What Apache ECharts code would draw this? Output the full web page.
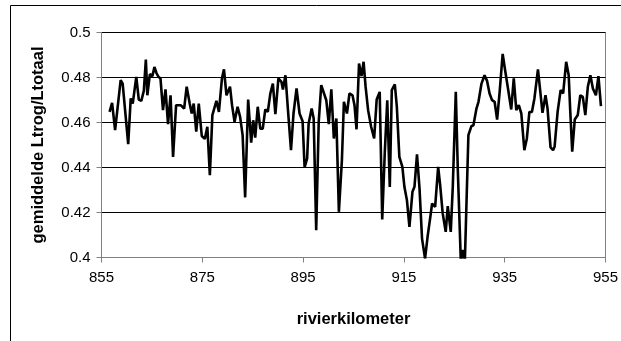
<!DOCTYPE html>
<html>
<head>
<meta charset="utf-8">
<script src="https://cdn.jsdelivr.net/npm/echarts@6/dist/echarts.min.js"></script>
<style>
html,body{margin:0;padding:0;background:#fff;}
#c{width:621px;height:341px;}
</style>
</head>
<body>
<div id="c"></div>
<script>
const km = [
856.6,857.1,857.7,858.8,859.2,860.3,860.8,861.2,861.9,862.4,862.9,863.4,863.8,864.1,864.6,865.1,865.5,865.9,866.3,866.7,
867.2,867.7,868.2,868.7,869.2,869.8,870.7,871.4,871.9,872.5,872.9,873.3,873.8,874.3,874.9,875.5,876.0,876.5,877.0,877.8,
878.3,878.9,879.3,879.8,880.5,880.9,881.4,882.0,882.5,883.0,883.5,884.1,884.7,885.1,885.5,886.0,886.5,887.0,887.5,888.0,
888.5,889.0,889.5,890.1,890.7,891.0,891.5,892.0,892.6,893.1,893.7,894.3,894.9,895.3,895.8,896.1,896.7,897.1,897.6,898.1,
898.6,899.6,900.1,900.6,901.1,901.6,902.1,902.7,903.1,903.7,904.2,904.8,905.2,905.6,906.1,906.6,907.0,907.4,907.9,908.5,
909.1,909.6,910.2,910.7,911.2,911.7,912.2,912.6,913.2,913.6,914.1,914.7,915.1,915.6,916.1,916.7,917.1,917.6,918.1,918.6,
919.2,919.7,920.2,920.6,921.2,921.8,922.2,922.7,923.3,923.7,924.3,924.7,925.3,925.7,926.3,926.7,927.1,927.8,928.4,928.8,
929.4,929.8,930.4,931.0,931.5,932.0,932.5,933.0,933.5,934.0,934.6,935.1,935.6,936.3,936.8,937.3,937.8,938.3,938.9,939.4,
939.9,940.4,940.9,941.6,942.1,942.5,943.1,943.5,944.1,944.6,944.9,945.5,946.1,946.6,947.2,947.7,948.0,948.4,948.9,949.5,
950.0,950.5,951.0,951.5,952.0,952.5,953.1,953.6,954.1
];
const ratio = [
0.4647,0.4687,0.4566,0.4788,0.4773,0.4504,0.4707,0.4684,0.4803,0.4702,0.4696,0.4741,0.4880,0.4721,0.4815,0.4806,0.4847,0.4820,0.4803,0.4796,
0.4655,0.4747,0.4593,0.4721,0.4447,0.4677,0.4677,0.4662,0.4759,0.4684,0.4640,0.4684,0.4559,0.4684,0.4540,0.4527,0.4581,0.4366,0.4633,0.4696,
0.4647,0.4796,0.4836,0.4721,0.4759,0.4677,0.4603,0.4670,0.4625,0.4544,0.4267,0.4702,0.4510,0.4610,0.4533,0.4670,0.4573,0.4573,0.4658,0.4647,
0.4729,0.4773,0.4637,0.4796,0.4781,0.4747,0.4810,0.4655,0.4477,0.4640,0.4751,0.4640,0.4606,0.4400,0.4440,0.4596,0.4662,0.4618,0.4121,0.4603,
0.4766,0.4699,0.4593,0.4747,0.4529,0.4618,0.4203,0.4433,0.4692,0.4640,0.4729,0.4721,0.4677,0.4569,0.4862,0.4806,0.4870,0.4759,0.4655,0.4581,
0.4529,0.4702,0.4736,0.4169,0.4462,0.4699,0.4314,0.4744,0.4770,0.4670,0.4447,0.4403,0.4314,0.4255,0.4136,0.4292,0.4314,0.4458,0.4307,0.4084,
0.3995,0.4092,0.4173,0.4240,0.4225,0.4403,0.4321,0.4196,0.4114,0.4228,0.4114,0.4314,0.4736,0.4388,0.3980,0.4033,0.3985,0.4544,0.4584,0.4588,
0.4662,0.4692,0.4773,0.4810,0.4785,0.4729,0.4699,0.4692,0.4613,0.4736,0.4905,0.4830,0.4759,0.4658,0.4796,0.4655,0.4677,0.4640,0.4477,0.4529,
0.4647,0.4647,0.4707,0.4836,0.4729,0.4643,0.4721,0.4662,0.4489,0.4477,0.4492,0.4647,0.4744,0.4729,0.4870,0.4810,0.4655,0.4470,0.4613,0.4633,
0.4721,0.4714,0.4633,0.4759,0.4810,0.4751,0.4721,0.4806,0.4673
];
const xTitle = 'rivierkilometer';
const yTitle = 'gemiddelde Ltrog/Ltotaal';

const data = km.map((k, i) => [k, ratio[i]]);
const chart = echarts.init(document.getElementById('c'), null, {renderer: 'canvas'});
const font = '"Liberation Sans", Arial, sans-serif';
chart.setOption({
  animation: false,
  backgroundColor: '#fff',
  grid: {left: 101.5, right: 15.5, top: 32.5, bottom: 83.5, show: true, borderColor: '#808080', borderWidth: 1, backgroundColor: 'transparent'},
  graphic: [{
    type: 'rect', silent: true, z: -1,
    shape: {x: 10.5, y: 5.5, width: 700, height: 400},
    style: {fill: null, stroke: '#000', lineWidth: 1}
  }],
  xAxis: {
    type: 'value', min: 855, max: 955, interval: 20,
    name: xTitle, nameLocation: 'middle', nameGap: 53,
    nameTextStyle: {fontFamily: font, fontWeight: 'bold', fontSize: 16.5, color: '#000'},
    axisLine: {show: true, lineStyle: {color: '#808080', width: 1}},
    axisTick: {show: true, inside: false, length: 5, lineStyle: {color: '#808080'}},
    axisLabel: {fontFamily: font, fontSize: 15, color: '#000', margin: 13},
    splitLine: {show: false}
  },
  yAxis: {
    type: 'value', min: 0.4, max: 0.5, interval: 0.02,
    name: yTitle, nameLocation: 'middle', nameGap: 55, nameRotate: 90,
    nameTextStyle: {fontFamily: font, fontWeight: 'bold', fontSize: 16.5, color: '#000'},
    axisLine: {show: true, lineStyle: {color: '#808080', width: 1}},
    axisTick: {show: true, inside: false, length: 5, lineStyle: {color: '#808080'}},
    axisLabel: {fontFamily: font, fontSize: 15, color: '#000', margin: 11,
      formatter: v => String(parseFloat(v.toFixed(2)))},
    splitLine: {show: true, lineStyle: {color: '#000', width: 1}}
  },
  series: [{
    type: 'line', data: data, showSymbol: false, symbol: 'none',
    lineStyle: {color: '#000', width: 2.6}, clip: true
  }]
});
</script>
</body>
</html>
